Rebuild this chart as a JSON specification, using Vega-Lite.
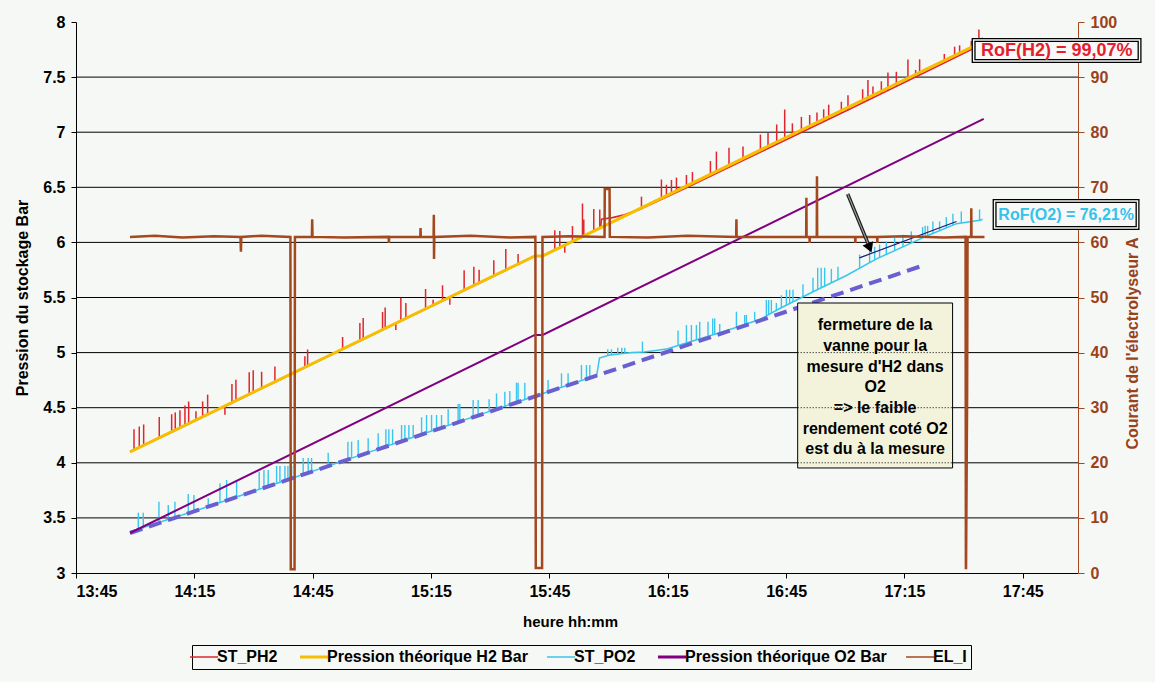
{
"$schema": "https://vega.github.io/schema/vega-lite/v6.json",
"width": 1002, "height": 551,
"autosize": {"type": "none"},
"padding": {"left": 76, "top": 22, "right": 77, "bottom": 109},
"background": "#f6f8f5",
"config": {
 "font": "Liberation Sans, Arial, sans-serif",
 "view": {"stroke": null},
 "legend": {"orient": "none", "legendX": 116, "legendY": 623, "direction": "horizontal", "symbolType": "stroke", "symbolSize": 784, "symbolStrokeWidth": 2, "labelFont": "Liberation Sans, Arial, sans-serif", "labelFontSize": 16, "labelFontWeight": "bold", "labelColor": "#000", "strokeColor": "#000", "fillColor": "#f6f8f5", "padding": 4, "columnPadding": 16, "labelLimit": 400, "labelOffset": 5}
},
"datasets": {
 "grid": [{"v":3.5},{"v":4},{"v":4.5},{"v":5},{"v":5.5},{"v":6},{"v":6.5},{"v":7},{"v":7.5}],
 "h2": [{"t":838.7,"v":4.1},{"t":850,"v":4.29},{"t":862,"v":4.5},{"t":875,"v":4.725},{"t":890,"v":4.985},{"t":905,"v":5.245},{"t":920,"v":5.505},{"t":935,"v":5.765},{"t":941.3,"v":5.875},{"t":943.3,"v":5.877},{"t":950,"v":5.993},{"t":958,"v":6.135},{"t":958.2,"v":6.21},{"t":961,"v":6.225},{"t":964,"v":6.25},{"t":968,"v":6.3},{"t":980,"v":6.5},{"t":1000,"v":6.845},{"t":1020,"v":7.19},{"t":1040,"v":7.54},{"t":1054.8,"v":7.8}],
 "h2sp": [
  {"t":839.70,"v":4.305,"v2":4.115},{"t":841.04,"v":4.329,"v2":4.139},{"t":842.15,"v":4.348,"v2":4.158},{"t":846.11,"v":4.416,"v2":4.226},{"t":849.25,"v":4.441,"v2":4.281},{"t":850.16,"v":4.457,"v2":4.297},{"t":851.35,"v":4.477,"v2":4.317},{"t":852.62,"v":4.519,"v2":4.339},{"t":853.56,"v":4.556,"v2":4.356},{"t":855.41,"v":4.468,"v2":4.388},{"t":857.10,"v":4.557,"v2":4.417},{"t":858.37,"v":4.619,"v2":4.439},{"t":862.75,"v":4.435,"v2":4.515},{"t":864.53,"v":4.716,"v2":4.546},{"t":865.54,"v":4.753,"v2":4.563},{"t":868.91,"v":4.822,"v2":4.622},{"t":869.92,"v":4.839,"v2":4.639},{"t":872.05,"v":4.826,"v2":4.676},{"t":875.42,"v":4.875,"v2":4.735},{"t":883.02,"v":4.967,"v2":4.867},{"t":883.71,"v":5.028,"v2":4.878},{"t":892.58,"v":5.142,"v2":5.032},{"t":896.96,"v":5.268,"v2":5.108},{"t":897.80,"v":5.313,"v2":5.123},{"t":902.71,"v":5.368,"v2":5.208},{"t":903.37,"v":5.409,"v2":5.219},{"t":906.08,"v":5.206,"v2":5.266},{"t":907.35,"v":5.498,"v2":5.288},{"t":908.62,"v":5.450,"v2":5.310},{"t":913.61,"v":5.577,"v2":5.397},{"t":915.53,"v":5.480,"v2":5.430},{"t":917.91,"v":5.611,"v2":5.471},{"t":919.76,"v":5.434,"v2":5.504},{"t":923.39,"v":5.747,"v2":5.567},{"t":925.85,"v":5.779,"v2":5.609},{"t":927.19,"v":5.752,"v2":5.632},{"t":930.91,"v":5.837,"v2":5.697},{"t":933.95,"v":5.940,"v2":5.750},{"t":937.07,"v":5.894,"v2":5.804},{"t":946.37,"v":6.111,"v2":5.931},{"t":947.64,"v":6.103,"v2":5.953},{"t":948.90,"v":5.905,"v2":5.975},{"t":950.85,"v":6.148,"v2":6.008},{"t":953.39,"v":6.353,"v2":6.053},{"t":953.72,"v":6.208,"v2":6.058},{"t":956.25,"v":6.303,"v2":6.103},{"t":957.77,"v":6.299,"v2":6.129},{"t":968.34,"v":6.415,"v2":6.300},{"t":973.40,"v":6.571,"v2":6.40},{"t":974.67,"v":6.523,"v2":6.42},{"t":975.94,"v":6.566,"v2":6.44},{"t":977.21,"v":6.588,"v2":6.46},{"t":979.74,"v":6.612,"v2":6.50},{"t":981.26,"v":6.638,"v2":6.52},{"t":985.82,"v":6.738,"v2":6.60},{"t":987.34,"v":6.824,"v2":6.62},{"t":990.53,"v":6.860,"v2":6.68},{"t":994.08,"v":6.871,"v2":6.74},{"t":998.49,"v":6.978,"v2":6.82},{"t":1000.42,"v":6.992,"v2":6.85},{"t":1002.62,"v":7.070,"v2":6.89},{"t":1004.65,"v":7.206,"v2":6.93},{"t":1006.60,"v":7.080,"v2":6.96},{"t":1008.88,"v":7.139,"v2":7.00},{"t":1010.98,"v":7.156,"v2":7.035},{"t":1012.83,"v":7.178,"v2":7.07},{"t":1014.53,"v":7.208,"v2":7.10},{"t":1015.80,"v":7.250,"v2":7.12},{"t":1019.01,"v":7.276,"v2":7.17},{"t":1020.69,"v":7.335,"v2":7.20},{"t":1024.41,"v":7.390,"v2":7.27},{"t":1025.75,"v":7.473,"v2":7.29},{"t":1027.02,"v":7.415,"v2":7.31},{"t":1029.15,"v":7.462,"v2":7.35},{"t":1030.82,"v":7.541,"v2":7.38},{"t":1032.95,"v":7.548,"v2":7.42},{"t":1035.89,"v":7.660,"v2":7.47},{"t":1037.84,"v":7.564,"v2":7.50},{"t":1038.85,"v":7.661,"v2":7.52},{"t":1045.11,"v":7.710,"v2":7.63},{"t":1047.72,"v":7.776,"v2":7.675},{"t":1048.99,"v":7.788,"v2":7.70},{"t":1051.95,"v":7.829,"v2":7.75},{"t":1053.88,"v":7.933,"v2":7.785},{"t":1054.74,"v":7.858,"v2":7.80}],
 "h2th": [{"t":838.7,"v":4.1},{"t":941.3,"v":5.877},{"t":943.3,"v":5.877},{"t":1054.8,"v":7.82}],
 "o2": [{"t":838.68,"v":3.375},{"t":857,"v":3.585},{"t":876,"v":3.815},{"t":895,"v":4.045},{"t":914,"v":4.275},{"t":933,"v":4.505},{"t":950,"v":4.708},{"t":957.0,"v":4.792},{"t":957.7,"v":4.95},{"t":960,"v":4.975},{"t":963,"v":4.99},{"t":966,"v":5.0},{"t":969,"v":5.005},{"t":972,"v":5.02},{"t":975.0,"v":5.035},{"t":977.2,"v":5.06},{"t":990,"v":5.2},{"t":998.3,"v":5.3},{"t":1003.4,"v":5.4},{"t":1011.7,"v":5.55},{"t":1020.3,"v":5.7},{"t":1027.9,"v":5.85},{"t":1037.1,"v":6.0},{"t":1041.4,"v":6.07},{"t":1048.2,"v":6.17},{"t":1054.1,"v":6.2},{"t":1054.8,"v":6.21}],
 "o2sp": [
  {"t":840.79,"v":3.547,"v2":3.388},{"t":842.05,"v":3.547,"v2":3.404},{"t":846.03,"v":3.647,"v2":3.452},{"t":848.39,"v":3.617,"v2":3.480},{"t":850.08,"v":3.647,"v2":3.500},{"t":853.45,"v":3.717,"v2":3.541},{"t":854.89,"v":3.708,"v2":3.559},{"t":858.52,"v":3.678,"v2":3.602},{"t":861.49,"v":3.814,"v2":3.638},{"t":863.18,"v":3.844,"v2":3.659},{"t":865.72,"v":3.828,"v2":3.689},{"t":871.44,"v":3.919,"v2":3.758},{"t":872.64,"v":3.935,"v2":3.773},{"t":873.72,"v":3.935,"v2":3.786},{"t":875.85,"v":3.971,"v2":3.812},{"t":876.69,"v":3.971,"v2":3.822},{"t":877.96,"v":3.971,"v2":3.837},{"t":878.72,"v":3.971,"v2":3.846},{"t":879.65,"v":3.971,"v2":3.858},{"t":882.59,"v":4.044,"v2":3.893},{"t":883.86,"v":4.044,"v2":3.908},{"t":884.72,"v":4.044,"v2":3.919},{"t":888.93,"v":4.092,"v2":3.970},{"t":893.92,"v":4.192,"v2":4.030},{"t":894.86,"v":4.192,"v2":4.041},{"t":896.53,"v":4.207,"v2":4.061},{"t":899.06,"v":4.222,"v2":4.092},{"t":901.60,"v":4.268,"v2":4.123},{"t":903.55,"v":4.304,"v2":4.146},{"t":904.31,"v":4.304,"v2":4.155},{"t":905.25,"v":4.304,"v2":4.167},{"t":907.53,"v":4.343,"v2":4.194},{"t":908.36,"v":4.343,"v2":4.204},{"t":909.38,"v":4.343,"v2":4.217},{"t":910.47,"v":4.343,"v2":4.230},{"t":912.60,"v":4.413,"v2":4.255},{"t":913.86,"v":4.434,"v2":4.271},{"t":915.13,"v":4.434,"v2":4.286},{"t":916.40,"v":4.434,"v2":4.301},{"t":917.66,"v":4.434,"v2":4.317},{"t":919.34,"v":4.485,"v2":4.337},{"t":921.87,"v":4.533,"v2":4.367},{"t":922.30,"v":4.533,"v2":4.373},{"t":925.67,"v":4.570,"v2":4.413},{"t":926.94,"v":4.570,"v2":4.429},{"t":929.72,"v":4.576,"v2":4.462},{"t":931.60,"v":4.630,"v2":4.485},{"t":933.70,"v":4.645,"v2":4.510},{"t":934.97,"v":4.651,"v2":4.526},{"t":936.67,"v":4.727,"v2":4.546},{"t":937.07,"v":4.727,"v2":4.551},{"t":938.77,"v":4.727,"v2":4.571},{"t":944.67,"v":4.751,"v2":4.643},{"t":948.07,"v":4.812,"v2":4.684},{"t":949.74,"v":4.812,"v2":4.704},{"t":953.13,"v":4.887,"v2":4.745},{"t":954.40,"v":4.887,"v2":4.760},{"t":955.24,"v":4.887,"v2":4.770},{"t":959.80,"v":5.030,"v2":4.970},{"t":960.74,"v":5.030,"v2":4.975},{"t":962.33,"v":5.045,"v2":4.985},{"t":963.34,"v":5.045,"v2":4.990},{"t":964.11,"v":5.045,"v2":4.992},{"t":968.59,"v":5.100,"v2":5.005},{"t":977.61,"v":5.200,"v2":5.064},{"t":979.74,"v":5.250,"v2":5.087},{"t":981.00,"v":5.250,"v2":5.101},{"t":982.27,"v":5.250,"v2":5.115},{"t":983.11,"v":5.280,"v2":5.124},{"t":985.21,"v":5.280,"v2":5.147},{"t":986.40,"v":5.310,"v2":5.160},{"t":986.91,"v":5.310,"v2":5.166},{"t":988.18,"v":5.260,"v2":5.180},{"t":992.41,"v":5.371,"v2":5.229},{"t":994.51,"v":5.341,"v2":5.254},{"t":994.94,"v":5.341,"v2":5.259},{"t":997.04,"v":5.370,"v2":5.285},{"t":1000.00,"v":5.477,"v2":5.333},{"t":1000.59,"v":5.477,"v2":5.345},{"t":1001.27,"v":5.477,"v2":5.358},{"t":1002.54,"v":5.450,"v2":5.383},{"t":1003.81,"v":5.520,"v2":5.407},{"t":1005.08,"v":5.570,"v2":5.430},{"t":1005.91,"v":5.570,"v2":5.445},{"t":1006.75,"v":5.570,"v2":5.460},{"t":1009.28,"v":5.620,"v2":5.506},{"t":1011.82,"v":5.680,"v2":5.552},{"t":1013.01,"v":5.770,"v2":5.573},{"t":1013.90,"v":5.770,"v2":5.588},{"t":1014.78,"v":5.770,"v2":5.604},{"t":1016.48,"v":5.760,"v2":5.634},{"t":1018.15,"v":5.780,"v2":5.663},{"t":1023.64,"v":5.890,"v2":5.766},{"t":1026.18,"v":5.930,"v2":5.816},{"t":1027.45,"v":5.960,"v2":5.841},{"t":1028.70,"v":5.980,"v2":5.863},{"t":1030.41,"v":6.010,"v2":5.891},{"t":1032.52,"v":6.040,"v2":5.925},{"t":1034.62,"v":6.070,"v2":5.960},{"t":1036.75,"v":6.100,"v2":5.995},{"t":1039.61,"v":6.140,"v2":6.041},{"t":1040.25,"v":6.150,"v2":6.051},{"t":1040.88,"v":6.150,"v2":6.062},{"t":1042.22,"v":6.190,"v2":6.082},{"t":1043.92,"v":6.190,"v2":6.107},{"t":1045.62,"v":6.230,"v2":6.132},{"t":1047.29,"v":6.260,"v2":6.157},{"t":1049.42,"v":6.280,"v2":6.176},{"t":1051.95,"v":6.270,"v2":6.189},{"t":1054.05,"v":6.300,"v2":6.200}],
 "o2th": [{"t":838.7,"v":3.363},{"t":941.3,"v":5.16},{"t":943.3,"v":5.16},{"t":1055.1,"v":7.12}],
 "trend": [{"t":838.7,"v":3.363},{"t":1040.1,"v":5.795}],
 "navy": [{"t":1023.6,"v":5.86},{"t":1048.2,"v":6.19}],
 "el": [{"t":838.7,"a":61.0},{"t":845,"a":61.2},{"t":852,"a":60.9},{"t":860,"a":61.1},{"t":866.7,"a":61.0},{"t":866.81,"a":58.3},{"t":866.9,"a":61.0},{"t":872,"a":61.2},{"t":879.35,"a":61.0},{"t":879.45,"a":0.7},{"t":880.4,"a":0.7},{"t":880.5,"a":61.0},{"t":884.8,"a":61.0},{"t":884.87,"a":64.2},{"t":884.95,"a":61.0},{"t":893,"a":60.9},{"t":904.25,"a":61.0},{"t":904.31,"a":59.9},{"t":904.4,"a":61.0},{"t":912.28,"a":61.0},{"t":912.34,"a":62.6},{"t":912.4,"a":61.0},{"t":915.65,"a":61.0},{"t":915.71,"a":65.0},{"t":915.76,"a":57.0},{"t":915.82,"a":61.0},{"t":925,"a":61.2},{"t":935,"a":60.9},{"t":941.45,"a":61.0},{"t":941.55,"a":0.9},{"t":943.15,"a":0.9},{"t":943.25,"a":61.0},{"t":950,"a":61.1},{"t":958.98,"a":61.0},{"t":959.04,"a":69.7},{"t":960.25,"a":69.7},{"t":960.32,"a":61.0},{"t":970,"a":60.9},{"t":980,"a":61.2},{"t":992.35,"a":61.0},{"t":992.41,"a":64.2},{"t":992.48,"a":61.0},{"t":1000,"a":61.0},{"t":1010.1,"a":61.0},{"t":1010.15,"a":68.1},{"t":1010.2,"a":61.0},{"t":1010.93,"a":61.0},{"t":1010.98,"a":59.9},{"t":1011.03,"a":61.0},{"t":1012.78,"a":61.0},{"t":1012.83,"a":72.0},{"t":1012.88,"a":61.0},{"t":1022.5,"a":61.0},{"t":1022.56,"a":59.9},{"t":1022.62,"a":61.0},{"t":1028.08,"a":61.0},{"t":1028.13,"a":59.9},{"t":1028.19,"a":61.0},{"t":1035,"a":61.1},{"t":1045,"a":60.9},{"t":1050.5,"a":61.0},{"t":1050.58,"a":0.9},{"t":1050.62,"a":0.9},{"t":1050.9,"a":33.0},{"t":1051.0,"a":61.0},{"t":1051.9,"a":61.0},{"t":1051.95,"a":66.2},{"t":1052.0,"a":61.0},{"t":1055.3,"a":61.0}],
 "rofh2": [{"t":1052.54,"t2":1094.6,"v":7.837,"v2":7.646,"tc":1073.6,"vc":7.741,"label":"RoF(H2) = 99,07%"}],
 "rofo2": [{"t":1057.86,"t2":1094.09,"v":6.376,"v2":6.131,"tc":1076.0,"vc":6.253,"label":"RoF(O2) = 76,21%"}],
 "note": [{"t":1007.94,"t2":1047.21,"v":5.45,"v2":3.953}],
 "notedots": [{"t":1007.94,"t2":1047.21,"v":5.0},{"t":1007.94,"t2":1047.21,"v":4.5},{"t":1007.94,"t2":1047.21,"v":4.0}],
 "notetext": [{"t":1027.58,"v":5.25,"label":"fermeture de la"},{"t":1027.58,"v":5.06,"label":"vanne pour la"},{"t":1027.58,"v":4.869,"label":"mesure d'H2 dans"},{"t":1027.58,"v":4.688,"label":"O2"},{"t":1027.58,"v":4.497,"label":"=> le faible"},{"t":1027.58,"v":4.307,"label":"rendement coté O2"},{"t":1027.58,"v":4.125,"label":"est du à la mesure"}],
 "arrow": [{"t":1020.61,"v":6.439},{"t":1026.0,"v":5.97}],
 "arrowhead": [{"t":1026.2,"v":5.95}]
},
"layer": [
 {
  "encoding": {"y": {"field": "v", "type": "quantitative", "scale": {"domain": [3, 8], "nice": false, "zero": false},
    "axis": {"orient": "left", "title": "Pression du stockage Bar", "values": [3,3.5,4,4.5,5,5.5,6,6.5,7,7.5,8], "format": "~g", "grid": false, "domainColor": "#000", "tickColor": "#000", "tickSize": 5, "labelFont": "Liberation Sans, Arial, sans-serif", "labelFontSize": 16, "labelFontWeight": "bold", "labelColor": "#000", "labelPadding": 6, "titleFont": "Liberation Sans, Arial, sans-serif", "titleFontSize": 16, "titleFontWeight": "bold", "titleColor": "#000", "titleX": -54, "titleY": 275.5, "titleAngle": 270, "titleBaseline": "middle", "titleAlign": "center"}}},
  "layer": [
   {"data": {"values": [{}]}, "mark": {"type": "rect", "fill": {"gradient": "linear", "x1": 0, "y1": 0, "x2": 0, "y2": 1, "stops": [{"offset": 0, "color": "#b9b9b9"}, {"offset": 0.45, "color": "#d6d7d6"}, {"offset": 0.85, "color": "#f0f2ef"}, {"offset": 1, "color": "#f4f6f3"}]}},
    "encoding": {"x": {"datum": 825, "type": "quantitative", "scale": {"domain": [825, 1079], "nice": false, "zero": false}}, "x2": {"datum": 1079}, "y": {"datum": 8, "type": "quantitative"}, "y2": {"datum": 3}}},
   {"data": {"name": "grid"}, "mark": {"type": "rule", "color": "#000", "strokeWidth": 1}, "encoding": {}},
   {"data": {"values": [{}]}, "mark": {"type": "rule", "color": "#8a8a8a", "strokeWidth": 1}, "encoding": {"y": {"datum": 8, "type": "quantitative"}}},
   {"data": {"name": "h2"}, "mark": {"type": "line", "strokeWidth": 1.6},
    "encoding": {"x": {"field": "t", "type": "quantitative", "scale": {"domain": [825, 1079], "nice": false, "zero": false},
      "axis": {"title": "heure hh:mm", "values": [825,855,885,915,945,975,1005,1035,1065], "labelExpr": "floor(datum.value/60) + ':' + (datum.value % 60 < 10 ? '0' : '') + (datum.value % 60)", "grid": false, "domainColor": "#000", "tickColor": "#000", "tickSize": 5, "labelFont": "Liberation Sans, Arial, sans-serif", "labelFontSize": 16, "labelFontWeight": "bold", "labelColor": "#000", "labelPadding": 5, "titleFont": "Liberation Sans, Arial, sans-serif", "titleFontSize": 15, "titleFontWeight": "bold", "titleColor": "#000", "titleX": 494, "titleY": 48, "titleBaseline": "middle"}},
     "color": {"datum": "ST_PH2", "type": "nominal", "scale": {"domain": ["ST_PH2", "Pression théorique H2 Bar", "ST_PO2", "Pression théorique O2 Bar", "EL_I"], "range": ["#e0262c", "#f6be00", "#38c6ee", "#800080", "#a3481f"]}, "legend": {"title": null, "encode": {"symbols": {"update": {"strokeWidth": {"signal": "datum.value == 'ST_PH2' || datum.value == 'ST_PO2' || datum.value == 'EL_I' ? 1.5 : 3"}}}}}}}},
   {"data": {"name": "h2sp"}, "mark": {"type": "rule", "strokeWidth": 1.5},
    "encoding": {"x": {"field": "t", "type": "quantitative", "scale": {"domain": [825, 1079], "nice": false, "zero": false}}, "y2": {"field": "v2"},
     "color": {"datum": "ST_PH2", "type": "nominal", "scale": {"domain": ["ST_PH2", "Pression théorique H2 Bar", "ST_PO2", "Pression théorique O2 Bar", "EL_I"], "range": ["#e0262c", "#f6be00", "#38c6ee", "#800080", "#a3481f"]}, "legend": {"title": null}}}},
   {"data": {"name": "h2th"}, "mark": {"type": "line", "strokeWidth": 3},
    "encoding": {"x": {"field": "t", "type": "quantitative", "scale": {"domain": [825, 1079], "nice": false, "zero": false}},
     "color": {"datum": "Pression théorique H2 Bar", "type": "nominal", "scale": {"domain": ["ST_PH2", "Pression théorique H2 Bar", "ST_PO2", "Pression théorique O2 Bar", "EL_I"], "range": ["#e0262c", "#f6be00", "#38c6ee", "#800080", "#a3481f"]}, "legend": {"title": null}}}},
   {"data": {"name": "o2"}, "mark": {"type": "line", "strokeWidth": 1.5},
    "encoding": {"x": {"field": "t", "type": "quantitative", "scale": {"domain": [825, 1079], "nice": false, "zero": false}},
     "color": {"datum": "ST_PO2", "type": "nominal", "scale": {"domain": ["ST_PH2", "Pression théorique H2 Bar", "ST_PO2", "Pression théorique O2 Bar", "EL_I"], "range": ["#e0262c", "#f6be00", "#38c6ee", "#800080", "#a3481f"]}, "legend": {"title": null}}}},
   {"data": {"name": "o2sp"}, "mark": {"type": "rule", "strokeWidth": 1.4},
    "encoding": {"x": {"field": "t", "type": "quantitative", "scale": {"domain": [825, 1079], "nice": false, "zero": false}}, "y2": {"field": "v2"},
     "color": {"datum": "ST_PO2", "type": "nominal", "scale": {"domain": ["ST_PH2", "Pression théorique H2 Bar", "ST_PO2", "Pression théorique O2 Bar", "EL_I"], "range": ["#e0262c", "#f6be00", "#38c6ee", "#800080", "#a3481f"]}, "legend": {"title": null}}}},
   {"data": {"name": "trend"}, "mark": {"type": "line", "strokeWidth": 4, "color": "#6a5fd0", "strokeDash": [13, 7]},
    "encoding": {"x": {"field": "t", "type": "quantitative", "scale": {"domain": [825, 1079], "nice": false, "zero": false}}}},
   {"data": {"name": "navy"}, "mark": {"type": "line", "strokeWidth": 1.2, "color": "#1c1c70"},
    "encoding": {"x": {"field": "t", "type": "quantitative", "scale": {"domain": [825, 1079], "nice": false, "zero": false}}}},
   {"data": {"name": "o2th"}, "mark": {"type": "line", "strokeWidth": 2},
    "encoding": {"x": {"field": "t", "type": "quantitative", "scale": {"domain": [825, 1079], "nice": false, "zero": false}},
     "color": {"datum": "Pression théorique O2 Bar", "type": "nominal", "scale": {"domain": ["ST_PH2", "Pression théorique H2 Bar", "ST_PO2", "Pression théorique O2 Bar", "EL_I"], "range": ["#e0262c", "#f6be00", "#38c6ee", "#800080", "#a3481f"]}, "legend": {"title": null}}}}
  ]
 },
 {
  "data": {"name": "el"},
  "mark": {"type": "line", "strokeWidth": 2.5},
  "encoding": {
   "x": {"field": "t", "type": "quantitative", "scale": {"domain": [825, 1079], "nice": false, "zero": false}},
   "y": {"field": "a", "type": "quantitative", "scale": {"domain": [0, 100], "nice": false},
    "axis": {"orient": "right", "title": "Courant de l'électrolyseur A", "values": [0,10,20,30,40,50,60,70,80,90,100], "format": "d", "grid": false, "domainColor": "#a3481f", "tickColor": "#a3481f", "tickSize": 6, "labelFont": "Liberation Sans, Arial, sans-serif", "labelFontSize": 16, "labelFontWeight": "bold", "labelColor": "#9a4219", "labelPadding": 6, "titleFont": "Liberation Sans, Arial, sans-serif", "titleFontSize": 16, "titleFontWeight": "bold", "titleColor": "#9a4219", "titleX": 54, "titleY": 321, "titleAngle": 270, "titleBaseline": "middle", "titleAlign": "center"}},
   "color": {"datum": "EL_I", "type": "nominal", "scale": {"domain": ["ST_PH2", "Pression théorique H2 Bar", "ST_PO2", "Pression théorique O2 Bar", "EL_I"], "range": ["#e0262c", "#f6be00", "#38c6ee", "#800080", "#a3481f"]}, "legend": {"title": null}}
  }
 },
 {
  "encoding": {
   "x": {"field": "t", "type": "quantitative", "scale": {"domain": [825, 1079], "nice": false, "zero": false}},
   "y": {"field": "v", "type": "quantitative", "scale": {"domain": [3, 8], "nice": false, "zero": false}, "axis": null}
  },
  "layer": [
   {"data": {"name": "note"}, "mark": {"type": "rect", "fill": "#f3f3dc", "stroke": "#000", "strokeWidth": 1}, "encoding": {"x2": {"field": "t2"}, "y2": {"field": "v2"}}},
   {"data": {"name": "notedots"}, "mark": {"type": "rule", "color": "#000", "strokeWidth": 1, "strokeDash": [1, 2]}, "encoding": {"x2": {"field": "t2"}}},
   {"data": {"name": "notetext"}, "mark": {"type": "text", "font": "Liberation Sans, Arial, sans-serif", "fontSize": 16, "fontWeight": "bold", "color": "#000", "align": "center", "baseline": "middle"}, "encoding": {"text": {"field": "label"}}},
   {"data": {"name": "arrow"}, "mark": {"type": "line", "color": "#1a1a1a", "strokeWidth": 3.5}},
   {"data": {"name": "arrow"}, "mark": {"type": "line", "color": "#9a9a9a", "strokeWidth": 1.2}},
   {"data": {"name": "arrowhead"}, "mark": {"type": "point", "shape": "triangle-down", "filled": true, "color": "#000", "size": 130, "angle": 338, "opacity": 1}},
   {"data": {"name": "rofh2"}, "mark": {"type": "rect", "fill": "#f8f8f8", "stroke": "#000", "strokeWidth": 4}, "encoding": {"x2": {"field": "t2"}, "y2": {"field": "v2"}}},
   {"data": {"name": "rofh2"}, "mark": {"type": "rect", "fill": null, "stroke": "#f8f8f8", "strokeWidth": 1.4}, "encoding": {"x2": {"field": "t2"}, "y2": {"field": "v2"}}},
   {"data": {"name": "rofh2"}, "mark": {"type": "text", "font": "Liberation Sans, Arial, sans-serif", "fontSize": 18, "fontWeight": "bold", "color": "#e3202b", "align": "center", "baseline": "middle"}, "encoding": {"x": {"field": "tc", "type": "quantitative"}, "y": {"field": "vc", "type": "quantitative"}, "text": {"field": "label"}}},
   {"data": {"name": "rofo2"}, "mark": {"type": "rect", "fill": "#f8f8f8", "stroke": "#000", "strokeWidth": 4}, "encoding": {"x2": {"field": "t2"}, "y2": {"field": "v2"}}},
   {"data": {"name": "rofo2"}, "mark": {"type": "rect", "fill": null, "stroke": "#f8f8f8", "strokeWidth": 1.4}, "encoding": {"x2": {"field": "t2"}, "y2": {"field": "v2"}}},
   {"data": {"name": "rofo2"}, "mark": {"type": "text", "font": "Liberation Sans, Arial, sans-serif", "fontSize": 16, "fontWeight": "bold", "color": "#33c3ea", "align": "center", "baseline": "middle"}, "encoding": {"x": {"field": "tc", "type": "quantitative"}, "y": {"field": "vc", "type": "quantitative"}, "text": {"field": "label"}}}
  ]
 }
],
"resolve": {"scale": {"y": "independent"}}
}
